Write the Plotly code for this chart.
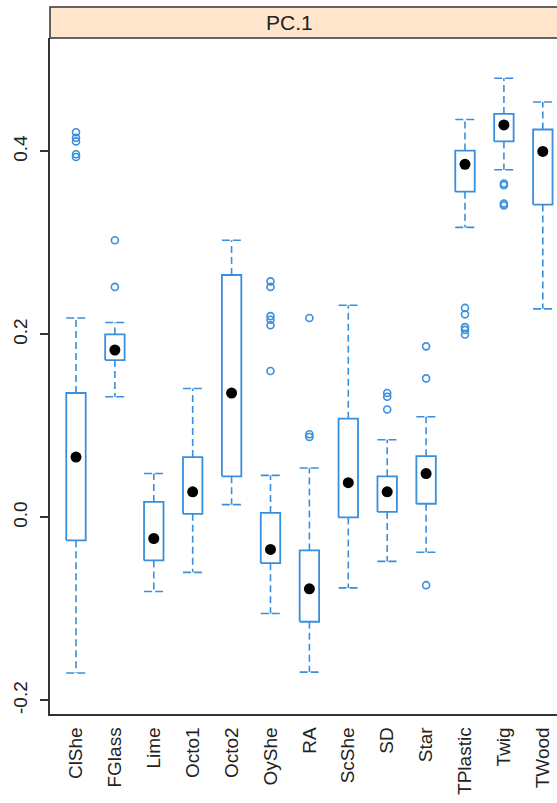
import plotly.graph_objects as go

# values (PC.1 scores by category)
categories = ["ClShe", "FGlass", "Lime", "Octo1", "Octo2", "OyShe", "RA",
              "ScShe", "SD", "Star", "TPlastic", "Twig", "TWood"]
lower_whisker = [-0.170, 0.132, -0.081, -0.060, 0.014, -0.105, -0.169,
                 -0.077, -0.048, -0.038, 0.317, 0.380, 0.228]
q1 = [-0.025, 0.172, -0.047, 0.004, 0.045, -0.050, -0.114,
      0.000, 0.006, 0.015, 0.356, 0.411, 0.342]
median = [0.066, 0.183, -0.023, 0.028, 0.136, -0.035, -0.078,
          0.038, 0.028, 0.048, 0.386, 0.429, 0.400]
q3 = [0.136, 0.200, 0.017, 0.066, 0.265, 0.005, -0.036,
      0.108, 0.045, 0.067, 0.401, 0.441, 0.424]
upper_whisker = [0.218, 0.213, 0.048, 0.141, 0.303, 0.046, 0.054,
                 0.232, 0.085, 0.110, 0.435, 0.480, 0.454]
outliers = [
    [0.421, 0.415, 0.411, 0.397, 0.394],
    [0.303, 0.252],
    [],
    [],
    [],
    [0.258, 0.252, 0.220, 0.216, 0.210, 0.160],
    [0.218, 0.091, 0.088],
    [],
    [0.136, 0.132, 0.118],
    [0.187, 0.152, -0.074],
    [0.229, 0.222, 0.208, 0.205, 0.200],
    [0.365, 0.363, 0.343, 0.341],
    [],
]

blue = "#3a8ede"
half = 0.25

box_x, box_y = [], []
wh_x, wh_y = [], []
cap_x, cap_y = [], []
out_x, out_y = [], []
for i in range(len(categories)):
    box_x += [i - half, i + half, i + half, i - half, i - half, None]
    box_y += [q1[i], q1[i], q3[i], q3[i], q1[i], None]
    wh_x += [i, i, None, i, i, None]
    wh_y += [q3[i], upper_whisker[i], None, q1[i], lower_whisker[i], None]
    for v in (upper_whisker[i], lower_whisker[i]):
        cap_x += [i - half, i + half, None]
        cap_y += [v, v, None]
    out_x += [i] * len(outliers[i])
    out_y += outliers[i]

fig = go.Figure()
fig.add_trace(go.Scatter(x=wh_x, y=wh_y, mode="lines",
                         line=dict(color=blue, width=1.6, dash="7px,4px"),
                         hoverinfo="skip"))
fig.add_trace(go.Scatter(x=cap_x, y=cap_y, mode="lines",
                         line=dict(color=blue, width=1.6, dash="8px,3px"),
                         hoverinfo="skip"))
fig.add_trace(go.Scatter(x=box_x, y=box_y, mode="lines",
                         line=dict(color=blue, width=1.8),
                         hoverinfo="skip"))
fig.add_trace(go.Scatter(x=out_x, y=out_y, mode="markers",
                         marker=dict(symbol="circle-open", size=7, color=blue,
                                     line=dict(width=1.6))))
fig.add_trace(go.Scatter(x=list(range(len(categories))), y=median, mode="markers",
                         marker=dict(symbol="circle", size=11, color="black")))

# strip label panel
fig.add_shape(type="rect", xref="paper", yref="paper",
              x0=0, x1=1.05, y0=1, y1=1 + 31 / 676,
              fillcolor="#ffe5cc", line=dict(color="#333333", width=1.5),
              layer="above")
fig.add_annotation(text="PC.1", xref="paper", yref="paper",
                   x=(289 - 50) / 507, y=1 + 15.5 / 676,
                   xanchor="center", yanchor="middle",
                   showarrow=False, font=dict(size=21, color="#222222"))

fig.update_layout(
    width=557, height=803,
    margin=dict(l=50, r=0, t=38, b=89),
    paper_bgcolor="white", plot_bgcolor="white",
    showlegend=False,
    font=dict(family="Liberation Sans, Arial, sans-serif", size=19, color="#222222"),
)
fig.update_xaxes(
    range=[-0.668, 12.365],
    tickvals=list(range(len(categories))), ticktext=categories,
    tickangle=-90, ticks="", ticklabelstandoff=4,
    showgrid=False, zeroline=False,
    showline=True, linecolor="#333333", linewidth=1.5,
)
fig.update_yaxes(
    range=[-0.2148, 0.524],
    tickvals=[-0.2, 0.0, 0.2, 0.4], ticktext=["-0.2", "0.0", "0.2", "0.4"],
    tickangle=-90, ticks="outside", ticklen=8, tickcolor="#333333", tickwidth=1.5,
    ticklabelstandoff=6,
    showgrid=False, zeroline=False,
    showline=True, linecolor="#333333", linewidth=1.5,
)

fig.write_html("out.html", config={"displayModeBar": False},
               post_script="document.body.style.margin='0';")
